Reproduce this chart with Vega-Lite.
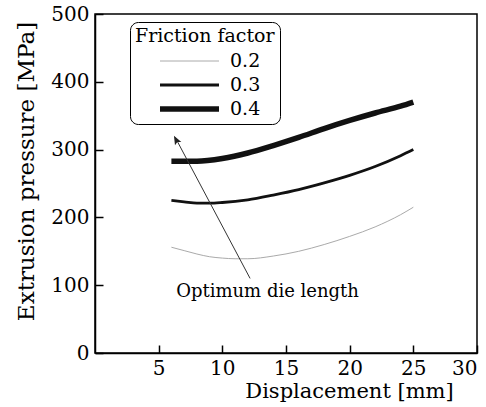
{
  "$schema": "https://vega.github.io/schema/vega-lite/v6.json",
  "width": 382,
  "height": 339,
  "autosize": "none",
  "padding": {"left": 95, "top": 14, "right": 9, "bottom": 54},
  "background": "white",
  "config": {
    "font": "DejaVu Serif",
    "view": {"stroke": "black", "strokeWidth": 1.5},
    "axis": {
      "grid": false,
      "domainColor": "black",
      "domainWidth": 1.5,
      "tickColor": "black",
      "tickWidth": 1.5,
      "tickSize": -8,
      "labelFont": "DejaVu Serif",
      "labelFontSize": 20,
      "labelColor": "black",
      "titleFont": "DejaVu Serif",
      "titleFontWeight": "normal",
      "titleColor": "black"
    }
  },
  "layer": [
    {
      "data": {
        "values": [
          {"x": 6, "y": 156, "f": "0.2"},
          {"x": 7, "y": 151, "f": "0.2"},
          {"x": 8, "y": 146, "f": "0.2"},
          {"x": 9, "y": 142, "f": "0.2"},
          {"x": 10, "y": 140, "f": "0.2"},
          {"x": 11, "y": 139, "f": "0.2"},
          {"x": 12, "y": 139, "f": "0.2"},
          {"x": 14, "y": 143, "f": "0.2"},
          {"x": 16, "y": 150, "f": "0.2"},
          {"x": 18, "y": 160, "f": "0.2"},
          {"x": 20, "y": 172, "f": "0.2"},
          {"x": 22, "y": 186, "f": "0.2"},
          {"x": 24, "y": 204, "f": "0.2"},
          {"x": 25, "y": 215, "f": "0.2"},
          {"x": 6, "y": 225, "f": "0.3"},
          {"x": 7, "y": 223, "f": "0.3"},
          {"x": 8, "y": 221, "f": "0.3"},
          {"x": 9, "y": 221, "f": "0.3"},
          {"x": 10, "y": 222, "f": "0.3"},
          {"x": 12, "y": 226, "f": "0.3"},
          {"x": 14, "y": 233, "f": "0.3"},
          {"x": 16, "y": 241, "f": "0.3"},
          {"x": 18, "y": 251, "f": "0.3"},
          {"x": 20, "y": 262, "f": "0.3"},
          {"x": 22, "y": 275, "f": "0.3"},
          {"x": 24, "y": 291, "f": "0.3"},
          {"x": 25, "y": 300, "f": "0.3"},
          {"x": 6, "y": 283, "f": "0.4"},
          {"x": 8, "y": 283, "f": "0.4"},
          {"x": 10, "y": 287, "f": "0.4"},
          {"x": 12, "y": 295, "f": "0.4"},
          {"x": 14, "y": 306, "f": "0.4"},
          {"x": 16, "y": 318, "f": "0.4"},
          {"x": 18, "y": 331, "f": "0.4"},
          {"x": 20, "y": 343, "f": "0.4"},
          {"x": 22, "y": 354, "f": "0.4"},
          {"x": 24, "y": 364, "f": "0.4"},
          {"x": 25, "y": 370, "f": "0.4"}
        ]
      },
      "mark": {"type": "line", "interpolate": "monotone"},
      "encoding": {
        "x": {
          "field": "x", "type": "quantitative",
          "scale": {"domain": [0, 30], "nice": false},
          "axis": {"values": [5, 10, 15, 20, 25, 30], "title": "Displacement [mm]", "titleFontSize": 21, "labelPadding": 13, "titleX": 254, "titleY": 44, "titleBaseline": "alphabetic", "titleAnchor": null}
        },
        "y": {
          "field": "y", "type": "quantitative",
          "scale": {"domain": [0, 500], "nice": false},
          "axis": {"values": [0, 100, 200, 300, 400, 500], "title": "Extrusion pressure [MPa]", "titleFontSize": 23, "labelPadding": 14, "titleX": -62, "titleY": 157, "titleBaseline": "alphabetic", "titleAnchor": null}
        },
        "color": {
          "field": "f", "type": "nominal",
          "scale": {"domain": ["0.2", "0.3", "0.4"], "range": ["#aaaaaa", "#111111", "#111111"]},
          "legend": {
            "title": "Friction factor",
            "orient": "none",
            "legendX": 35,
            "legendY": 8,
            "strokeColor": "black",
            "cornerRadius": 8,
            "padding": 5,
            "fillColor": "white",
            "symbolType": "stroke",
            "symbolSize": 3481,
            "symbolOffset": 22,
            "clipHeight": 18,
            "labelOffset": 8,
            "labelFont": "DejaVu Serif",
            "labelFontSize": 19,
            "labelColor": "black",
            "titleFont": "DejaVu Serif",
            "titleFontSize": 19,
            "titleFontWeight": "normal",
            "titleColor": "black",
            "titlePadding": 6,
            "rowPadding": 5
          }
        },
        "strokeWidth": {
          "field": "f", "type": "nominal",
          "scale": {"type": "ordinal", "domain": ["0.2", "0.3", "0.4"], "range": [1, 2.8, 5.5]}
        }
      }
    },
    {
      "data": {"values": [{"x": 12.18, "y": 110, "x2": 6.3, "y2": 318}]},
      "mark": {"type": "rule", "color": "#333333", "strokeWidth": 1},
      "encoding": {
        "x": {"field": "x", "type": "quantitative"},
        "y": {"field": "y", "type": "quantitative"},
        "x2": {"field": "x2"},
        "y2": {"field": "y2"}
      }
    },
    {
      "data": {"values": [{"x": 6.2, "y": 320.6}]},
      "mark": {"type": "point", "shape": "M0,0L-0.4,1L0,0.8L0.4,1Z", "size": 324, "angle": 332, "filled": true, "color": "#222222", "opacity": 1},
      "encoding": {
        "x": {"field": "x", "type": "quantitative"},
        "y": {"field": "y", "type": "quantitative"}
      }
    },
    {
      "data": {"values": [{"x": 13.55, "y": 82, "t": "Optimum die length"}]},
      "mark": {"type": "text", "font": "DejaVu Serif", "fontSize": 18, "color": "black", "align": "center", "baseline": "alphabetic"},
      "encoding": {
        "x": {"field": "x", "type": "quantitative"},
        "y": {"field": "y", "type": "quantitative"},
        "text": {"field": "t"}
      }
    }
  ]
}
